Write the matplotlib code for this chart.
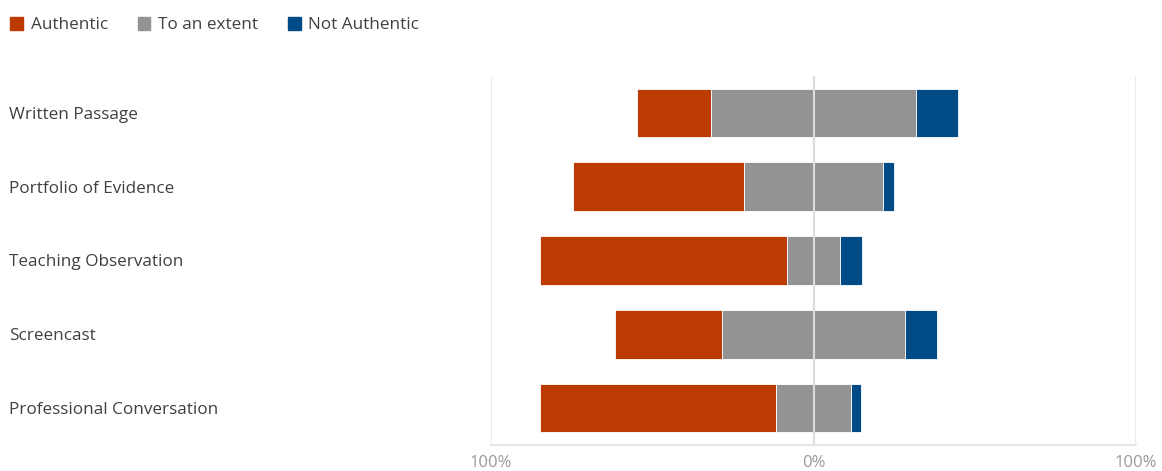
import matplotlib.pyplot as plt
from matplotlib.patches import Patch
from matplotlib.ticker import FuncFormatter
from matplotlib.transforms import blended_transform_factory

plt.rcParams['font.family'] = ['Open Sans', 'DejaVu Sans']

categories = ["Written Passage", "Portfolio of Evidence", "Teaching Observation",
              "Screencast", "Professional Conversation"]
authentic = [23.2, 53.1, 76.5, 33.1, 73.2]
to_an_extent = [63.3, 43.2, 16.7, 56.8, 23.4]
not_authentic = [13.2, 3.3, 6.6, 9.8, 3.0]

c_auth = "#BB3B02"
c_ext = "#939393"
c_not = "#004A85"

fig = plt.figure(figsize=(11.62, 4.71), dpi=100)
ax = fig.add_axes([491 / 1162, 1 - 445 / 471, 645 / 1162, 369 / 471])

ypos = list(range(len(categories)))[::-1]
h = 0.66
# the neutral block is centred on zero
auth_left = [-e / 2 - a for a, e in zip(authentic, to_an_extent)]
ext_left = [-e / 2 for e in to_an_extent]
not_left = [e / 2 for e in to_an_extent]

ax.barh(ypos, authentic, left=auth_left, height=h, color=c_auth, edgecolor="white", linewidth=0.6)
ax.barh(ypos, to_an_extent, left=ext_left, height=h, color=c_ext, edgecolor="white", linewidth=0.6)
ax.barh(ypos, not_authentic, left=not_left, height=h, color=c_not, edgecolor="white", linewidth=0.6)

ax.set_xlim(-100, 100)
ax.set_ylim(-0.5, 4.5)
ax.set_xticks([-100, 0, 100])
ax.xaxis.set_major_formatter(FuncFormatter(lambda v, p: f"{abs(v):.0f}%"))
ax.tick_params(axis="x", length=0, colors="#999999", labelsize=12, pad=7)
ax.tick_params(axis="y", length=0)
ax.set_yticks([])
for v in [-100, 100]:
    ax.axvline(v, color="#e6e6e6", lw=1.2, zorder=0)
ax.axvline(0, color="#dcdcdc", lw=1.5, zorder=5)
for s in ["top", "left", "right"]:
    ax.spines[s].set_visible(False)
ax.spines["bottom"].set_color("#e0e0e0")
ax.spines["bottom"].set_linewidth(1.2)

label_tr = blended_transform_factory(fig.transFigure, ax.transData)
for y, name in zip(ypos, categories):
    ax.text(9 / 1162, y, name, transform=label_tr,
            ha="left", va="center_baseline", fontsize=12.3, color="#404040")

handles = [Patch(color=c_auth, label="Authentic"),
           Patch(color=c_ext, label="To an extent"),
           Patch(color=c_not, label="Not Authentic")]
fig.legend(handles=handles, loc="upper left", bbox_to_anchor=(-7 / 1162, 1.0), ncol=3, frameon=False,
           fontsize=12.3, handlelength=0.75, handleheight=0.75, handletextpad=0.45, columnspacing=1.75,
           labelcolor="#404040", borderaxespad=0.6)

fig.savefig("out.png", dpi=100)
